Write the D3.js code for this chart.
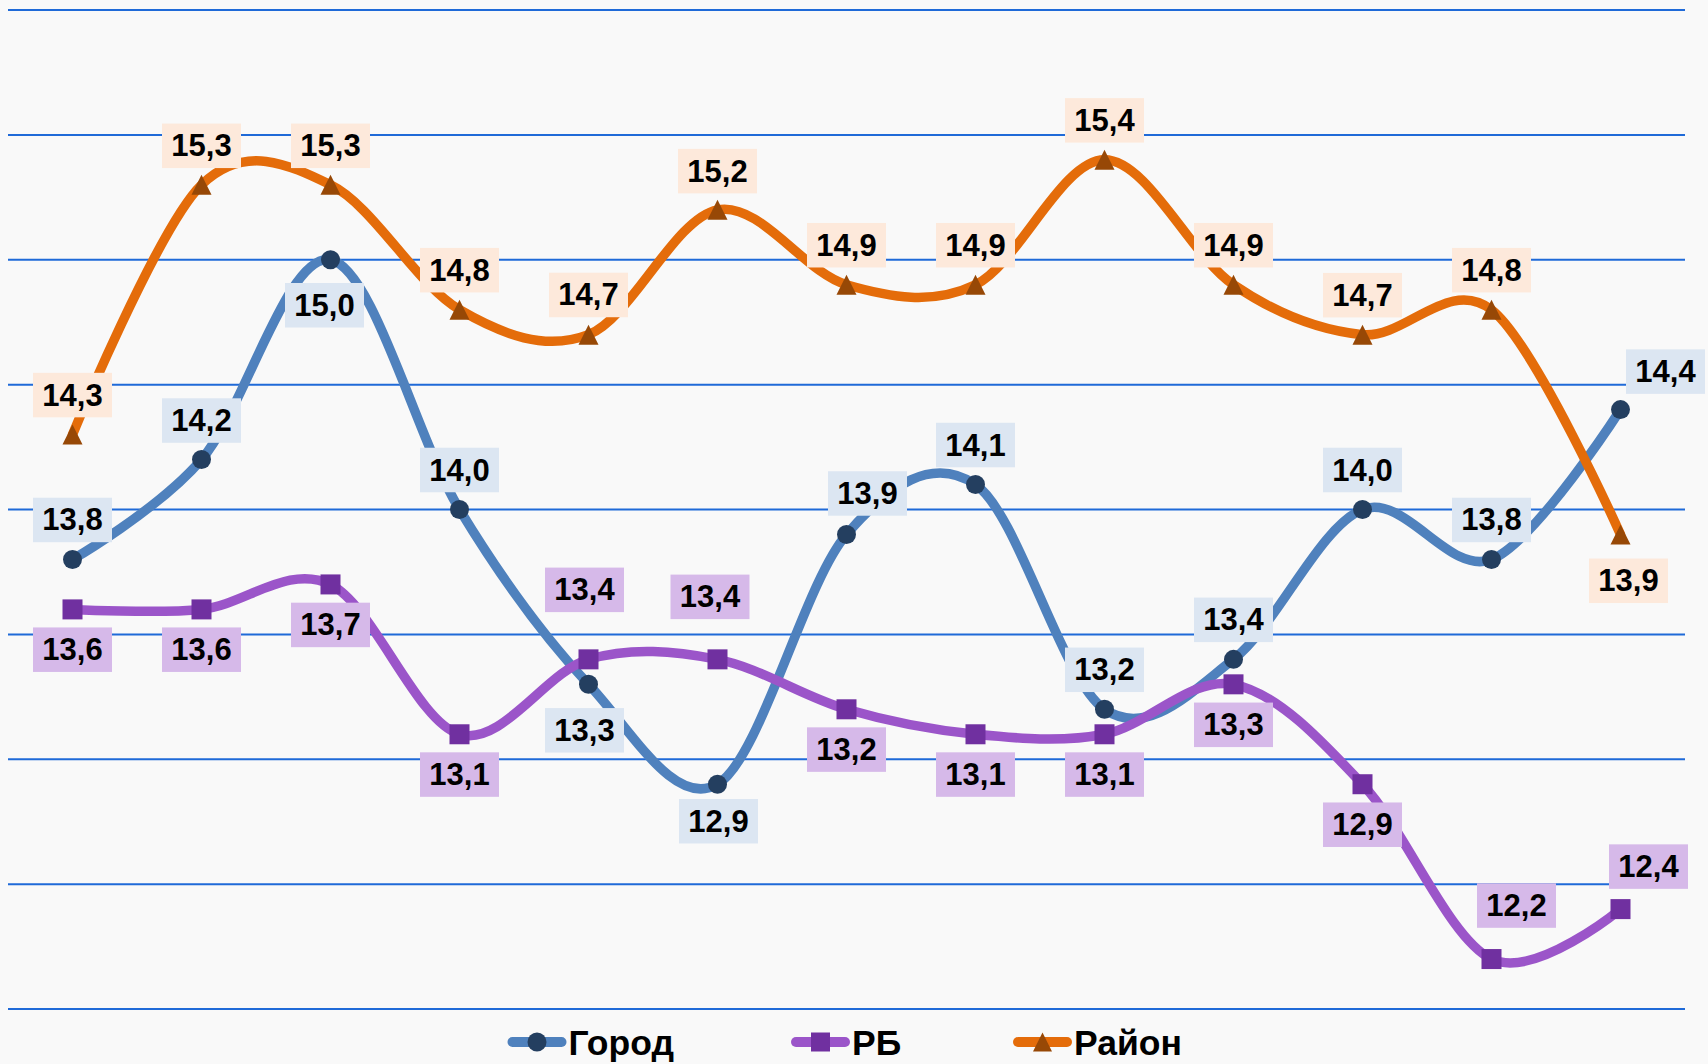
<!DOCTYPE html>
<html>
<head>
<meta charset="utf-8">
<script src="https://cdn.jsdelivr.net/npm/d3@7"></script>
<style>
  html, body { margin: 0; padding: 0; background: #f9f9f9; }
  svg { display: block; }
</style>
</head>
<body>
<svg id="chart" width="1708" height="1064"></svg>
<script>
// ---------------- DATA ----------------
const categories = ["1","2","3","4","5","6","7","8","9","10","11","12","13"];
const seriesNames = ["Город", "РБ", "Район"];
const gorod = [13.8, 14.2, 15.0, 14.0, 13.3, 12.9, 13.9, 14.1, 13.2, 13.4, 14.0, 13.8, 14.4];
const rb    = [13.6, 13.6, 13.7, 13.1, 13.4, 13.4, 13.2, 13.1, 13.1, 13.3, 12.9, 12.2, 12.4];
const rayon = [14.3, 15.3, 15.3, 14.8, 14.7, 15.2, 14.9, 14.9, 15.4, 14.9, 14.7, 14.8, 13.9];
const yTicks = [12, 12.5, 13, 13.5, 14, 14.5, 15, 15.5, 16];

// ---------------- LAYOUT (label placement relative to the point, px) ----------------
const offGorod = [[0,-39.5],[0,-39],[-6,45.5],[0,-39.5],[-4,46],[1,37],[21,-41],[0,-39.5],[0,-39.5],[0,-39.5],[0,-39.5],[0,-39.5],[45,-38]];
const offRb    = [[0,40.3],[0,40.3],[0,40.5],[0,40.3],[-4,-69.5],[-7.5,-62.5],[0,40.3],[0,40.3],[0,40.3],[0,40.5],[0,40.5],[25,-53.5],[28,-42.5]];
const offRayon = [[0,-39.5],[0,-39],[0,-39],[0,-39.5],[0,-39.7],[0,-38.7],[0,-39.5],[0,-39.5],[0,-39.5],[0,-39.5],[0,-39.5],[0,-39.5],[8,46.3]];

const styles = [
  { name: seriesNames[0], values: gorod, off: offGorod, line: "#4f81bd", marker: "#243f60", box: "#dce6f2", shape: "circle" },
  { name: seriesNames[1], values: rb,    off: offRb,    line: "#9b55c9", marker: "#7030a0", box: "#d6b9e9", shape: "square" },
  { name: seriesNames[2], values: rayon, off: offRayon, line: "#e46c0a", marker: "#974806", box: "#fde9db", shape: "triangle" }
];

const svg = d3.select("#chart");
const W = 1708, H = 1064;
svg.append("rect").attr("width", W).attr("height", H).attr("fill", "#f9f9f9");

const x = d3.scaleBand().domain(categories).range([8, 1685]).padding(0);
const cx = c => x(c) + x.bandwidth() / 2;
const y = d3.scaleLinear().domain([12, 16]).range([1009, 10]);

// gridlines
svg.append("g").selectAll("line").data(yTicks).join("line")
  .attr("x1", 8).attr("x2", 1685)
  .attr("y1", d => y(d)).attr("y2", d => y(d))
  .attr("stroke", "#1f6ad8").attr("stroke-width", 2);

const line = d3.line()
  .x((d, i) => cx(categories[i]))
  .y(d => y(d))
  .curve(d3.curveCardinal.tension(0));

function drawMarker(g, shape, color, px, py, s) {
  if (shape === "circle") {
    g.append("circle").attr("cx", px).attr("cy", py).attr("r", s / 2).attr("fill", color);
  } else if (shape === "square") {
    g.append("rect").attr("x", px - s / 2).attr("y", py - s / 2).attr("width", s).attr("height", s).attr("fill", color);
  } else {
    const h = s;
    g.append("path")
      .attr("d", `M${px},${py - h / 2} L${px + s / 2},${py + h / 2} L${px - s / 2},${py + h / 2} Z`)
      .attr("fill", color);
  }
}

const seriesG = svg.append("g");
styles.forEach(st => {
  const g = seriesG.append("g");
  g.append("path").datum(st.values)
    .attr("d", line)
    .attr("fill", "none")
    .attr("stroke", st.line)
    .attr("stroke-width", 9.5)
    .attr("stroke-linecap", "round")
    .attr("stroke-linejoin", "round");
  st.values.forEach((v, i) => {
    drawMarker(g, st.shape, st.marker, cx(categories[i]), y(v), st.shape === "circle" ? 19 : 20);
  });
});

// data labels
const fmt = v => d3.format(".1f")(v).replace(".", ",");
const labelsG = svg.append("g");
const boxW = 79, boxH = 44.5;
styles.forEach(st => {
  st.values.forEach((v, i) => {
    const px = cx(categories[i]) + st.off[i][0];
    const py = y(v) + st.off[i][1];
    labelsG.append("rect")
      .attr("x", px - boxW / 2).attr("y", py - boxH / 2)
      .attr("width", boxW).attr("height", boxH)
      .attr("fill", st.box);
    labelsG.append("text")
      .attr("x", px).attr("y", py)
      .attr("text-anchor", "middle")
      .attr("dominant-baseline", "central")
      .attr("font-family", "'Liberation Sans', Arial, sans-serif")
      .attr("font-weight", "bold")
      .attr("font-size", 31)
      .attr("fill", "#000")
      .text(fmt(v));
  });
});

// legend
const legendX = [507.5, 791, 1013];
const legendY = 1042;
const legG = svg.append("g");
styles.forEach((st, i) => {
  const lx = legendX[i];
  legG.append("line")
    .attr("x1", lx + 5).attr("x2", lx + 54)
    .attr("y1", legendY).attr("y2", legendY)
    .attr("stroke", st.line).attr("stroke-width", 10).attr("stroke-linecap", "round");
  drawMarker(legG, st.shape, st.marker, lx + 29.5, legendY, 19);
  legG.append("text")
    .attr("x", lx + 61).attr("y", legendY + 1)
    .attr("dominant-baseline", "central")
    .attr("font-family", "'Liberation Sans', Arial, sans-serif")
    .attr("font-weight", "bold")
    .attr("font-size", 35.5)
    .attr("fill", "#000")
    .text(st.name);
});
</script>
</body>
</html>
